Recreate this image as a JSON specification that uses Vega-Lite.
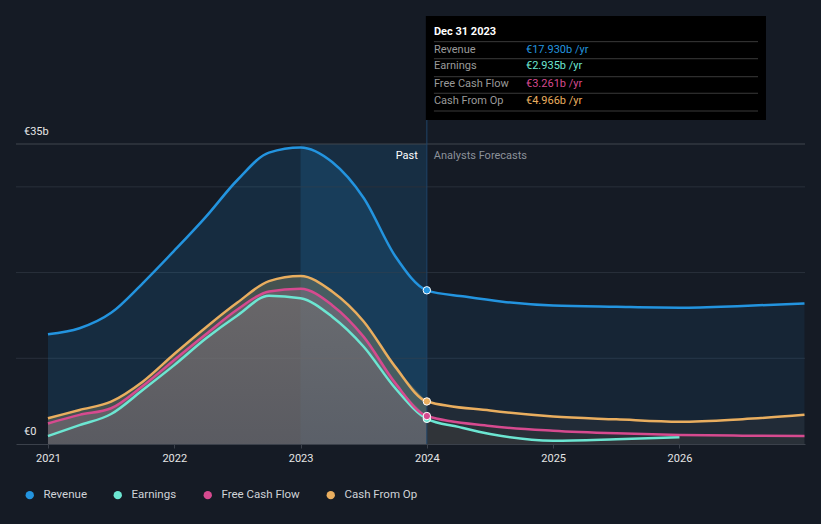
{
  "$schema": "https://vega.github.io/schema/vega-lite/v6.json",
  "width": 789,
  "height": 300,
  "autosize": "none",
  "padding": {"left": 16, "right": 16, "top": 144, "bottom": 80},
  "background": "#151b25",
  "config": {
    "view": {"stroke": null},
    "font": "Roboto",
    "axisX": {
      "labelColor": "#e6e6e6",
      "labelFontSize": 11,
      "labelFont": "Roboto",
      "tickColor": "#3b414b",
      "tickSize": 4,
      "domainColor": "#3b414b",
      "grid": false,
      "labelPadding": 4
    },
    "legend": {
      "labelFont": "Roboto",
      "labelFontSize": 11.5,
      "labelColor": "#d0d3d8",
      "symbolType": "circle",
      "symbolSize": 70,
      "symbolStrokeWidth": 0
    }
  },
  "datasets": {
    "main": [
      {"series": "Revenue", "year": 2021, "value": 12.8},
      {"series": "Revenue", "year": 2021.25, "value": 13.5},
      {"series": "Revenue", "year": 2021.5, "value": 15.3},
      {"series": "Revenue", "year": 2021.75, "value": 18.75},
      {"series": "Revenue", "year": 2022, "value": 22.55},
      {"series": "Revenue", "year": 2022.25, "value": 26.5},
      {"series": "Revenue", "year": 2022.5, "value": 30.8},
      {"series": "Revenue", "year": 2022.75, "value": 34.0},
      {"series": "Revenue", "year": 2023, "value": 34.6},
      {"series": "Revenue", "year": 2023.25, "value": 32.9},
      {"series": "Revenue", "year": 2023.5, "value": 28.7},
      {"series": "Revenue", "year": 2023.75, "value": 21.9},
      {"series": "Revenue", "year": 2024, "value": 17.93},
      {"series": "Revenue", "year": 2024.3, "value": 17.2},
      {"series": "Revenue", "year": 2024.6, "value": 16.6},
      {"series": "Revenue", "year": 2025, "value": 16.15},
      {"series": "Revenue", "year": 2025.5, "value": 16.0},
      {"series": "Revenue", "year": 2026, "value": 15.9},
      {"series": "Revenue", "year": 2026.5, "value": 16.1},
      {"series": "Revenue", "year": 2026.99, "value": 16.4},
      {"series": "Earnings", "year": 2021, "value": 0.93},
      {"series": "Earnings", "year": 2021.25, "value": 2.2},
      {"series": "Earnings", "year": 2021.5, "value": 3.5},
      {"series": "Earnings", "year": 2021.75, "value": 6.3},
      {"series": "Earnings", "year": 2022, "value": 9.2},
      {"series": "Earnings", "year": 2022.25, "value": 12.3},
      {"series": "Earnings", "year": 2022.5, "value": 15.0},
      {"series": "Earnings", "year": 2022.75, "value": 17.3},
      {"series": "Earnings", "year": 2023, "value": 17.0},
      {"series": "Earnings", "year": 2023.25, "value": 14.85},
      {"series": "Earnings", "year": 2023.5, "value": 11.35},
      {"series": "Earnings", "year": 2023.75, "value": 6.5},
      {"series": "Earnings", "year": 2024, "value": 2.935},
      {"series": "Earnings", "year": 2024.25, "value": 2.0},
      {"series": "Earnings", "year": 2024.5, "value": 1.17},
      {"series": "Earnings", "year": 2025, "value": 0.39},
      {"series": "Earnings", "year": 2025.5, "value": 0.55},
      {"series": "Earnings", "year": 2026, "value": 0.78},
      {"series": "Free Cash Flow", "year": 2021, "value": 2.4},
      {"series": "Free Cash Flow", "year": 2021.25, "value": 3.4},
      {"series": "Free Cash Flow", "year": 2021.5, "value": 4.17},
      {"series": "Free Cash Flow", "year": 2021.75, "value": 6.77},
      {"series": "Free Cash Flow", "year": 2022, "value": 9.8},
      {"series": "Free Cash Flow", "year": 2022.25, "value": 12.8},
      {"series": "Free Cash Flow", "year": 2022.5, "value": 15.7},
      {"series": "Free Cash Flow", "year": 2022.75, "value": 17.8},
      {"series": "Free Cash Flow", "year": 2023, "value": 18.1},
      {"series": "Free Cash Flow", "year": 2023.25, "value": 16.2},
      {"series": "Free Cash Flow", "year": 2023.5, "value": 12.5},
      {"series": "Free Cash Flow", "year": 2023.75, "value": 7.1},
      {"series": "Free Cash Flow", "year": 2024, "value": 3.261},
      {"series": "Free Cash Flow", "year": 2024.5, "value": 2.1},
      {"series": "Free Cash Flow", "year": 2025, "value": 1.55},
      {"series": "Free Cash Flow", "year": 2025.5, "value": 1.24},
      {"series": "Free Cash Flow", "year": 2026, "value": 1.05},
      {"series": "Free Cash Flow", "year": 2026.5, "value": 0.97},
      {"series": "Free Cash Flow", "year": 2026.99, "value": 0.93},
      {"series": "Cash From Op", "year": 2021, "value": 3.0},
      {"series": "Cash From Op", "year": 2021.25, "value": 3.97},
      {"series": "Cash From Op", "year": 2021.5, "value": 4.94},
      {"series": "Cash From Op", "year": 2021.75, "value": 7.27},
      {"series": "Cash From Op", "year": 2022, "value": 10.5},
      {"series": "Cash From Op", "year": 2022.25, "value": 13.6},
      {"series": "Cash From Op", "year": 2022.5, "value": 16.5},
      {"series": "Cash From Op", "year": 2022.75, "value": 19.0},
      {"series": "Cash From Op", "year": 2023, "value": 19.6},
      {"series": "Cash From Op", "year": 2023.25, "value": 17.8},
      {"series": "Cash From Op", "year": 2023.5, "value": 14.3},
      {"series": "Cash From Op", "year": 2023.75, "value": 9.0},
      {"series": "Cash From Op", "year": 2024, "value": 4.966},
      {"series": "Cash From Op", "year": 2024.5, "value": 3.9},
      {"series": "Cash From Op", "year": 2025, "value": 3.2},
      {"series": "Cash From Op", "year": 2025.5, "value": 2.88},
      {"series": "Cash From Op", "year": 2026, "value": 2.6},
      {"series": "Cash From Op", "year": 2026.5, "value": 2.9},
      {"series": "Cash From Op", "year": 2026.99, "value": 3.4}
    ],
    "grid": [{"v": 10}, {"v": 20}, {"v": 30}, {"v": 35}],
    "tip": [
      {"series": "Revenue", "label": "Revenue", "text": "€17.930b /yr"},
      {"series": "Earnings", "label": "Earnings", "text": "€2.935b /yr"},
      {"series": "Free Cash Flow", "label": "Free Cash Flow", "text": "€3.261b /yr"},
      {"series": "Cash From Op", "label": "Cash From Op", "text": "€4.966b /yr"}
    ],
    "notes": [
      {"id": "past", "text": "Past"},
      {"id": "fc", "text": "Analysts Forecasts"},
      {"id": "top", "text": "€35b"},
      {"id": "zero", "text": "€0"},
      {"id": "date", "text": "Dec 31 2023"}
    ]
  },
  "layer": [
    {
      "data": {"values": [{"k": "past"}]},
      "mark": {"type": "rect", "color": "#2394df", "opacity": 0.16},
      "encoding": {
        "x": {"datum": 2023, "type": "quantitative", "title": null, "scale": {"domain": [2020.747, 2026.994], "nice": false, "zero": false}, "axis": {"values": [2021, 2022, 2023, 2024, 2025, 2026], "format": "d"}},
        "x2": {"datum": 2024},
        "y": {"datum": 0, "type": "quantitative", "axis": null, "scale": {"domain": [0, 35], "nice": false}},
        "y2": {"datum": 35}
      }
    },
    {
      "data": {"name": "grid"},
      "transform": [{"filter": "datum.v < 35"}],
      "mark": {"type": "rule", "color": "#29303b", "strokeWidth": 1},
      "encoding": {"y": {"field": "v", "type": "quantitative", "axis": null}}
    },
    {
      "data": {"name": "grid"},
      "transform": [{"filter": "datum.v == 35"}],
      "mark": {"type": "rule", "color": "#40464f", "strokeWidth": 1},
      "encoding": {"y": {"field": "v", "type": "quantitative", "axis": null}}
    },
    {
      "data": {"name": "main"},
      "transform": [{"filter": "datum.series == 'Revenue' && datum.year <= 2024"}],
      "mark": {"type": "area", "interpolate": "monotone", "color": "#2394df", "opacity": 0.15},
      "encoding": {
        "x": {"field": "year", "type": "quantitative", "title": null},
        "y": {"field": "value", "type": "quantitative", "axis": null, "stack": null}
      }
    },
    {
      "data": {"name": "main"},
      "transform": [{"filter": "datum.series == 'Revenue' && datum.year >= 2024"}],
      "mark": {"type": "area", "interpolate": "monotone", "color": "#2394df", "opacity": 0.09},
      "encoding": {
        "x": {"field": "year", "type": "quantitative", "title": null},
        "y": {"field": "value", "type": "quantitative", "axis": null, "stack": null}
      }
    },
    {
      "data": {"name": "main"},
      "transform": [{"filter": "datum.series == 'Cash From Op' && datum.year <= 2024"}],
      "mark": {"type": "area", "interpolate": "monotone", "color": "#a6a070", "opacity": 0.33},
      "encoding": {
        "x": {"field": "year", "type": "quantitative", "title": null},
        "y": {"field": "value", "type": "quantitative", "axis": null, "stack": null}
      }
    },
    {
      "data": {"name": "main"},
      "transform": [{"filter": "datum.series == 'Free Cash Flow' && datum.year <= 2024"}],
      "mark": {"type": "area", "interpolate": "monotone", "color": "#b08aa4", "opacity": 0.27},
      "encoding": {
        "x": {"field": "year", "type": "quantitative", "title": null},
        "y": {"field": "value", "type": "quantitative", "axis": null, "stack": null}
      }
    },
    {
      "data": {"name": "main"},
      "transform": [{"filter": "datum.series == 'Earnings' && datum.year <= 2024"}],
      "mark": {
        "type": "area",
        "interpolate": "monotone",
        "opacity": 0.45,
        "color": {"gradient": "linear", "x1": 0, "y1": 0, "x2": 0, "y2": 1, "stops": [{"offset": 0, "color": "#706e6c"}, {"offset": 1, "color": "#50555c"}]}
      },
      "encoding": {
        "x": {"field": "year", "type": "quantitative", "title": null},
        "y": {"field": "value", "type": "quantitative", "axis": null, "stack": null}
      }
    },
    {
      "data": {"name": "main"},
      "transform": [{"filter": "datum.series != 'Revenue' && datum.year >= 2024"}],
      "mark": {"type": "area", "interpolate": "monotone", "color": "#4a4540", "opacity": 0.22},
      "encoding": {
        "x": {"field": "year", "type": "quantitative", "title": null},
        "y": {"field": "value", "type": "quantitative", "axis": null, "stack": null},
        "detail": {"field": "series"}
      }
    },
    {
      "data": {"name": "main"},
      "mark": {"type": "line", "interpolate": "monotone", "strokeWidth": 2.5},
      "encoding": {
        "x": {"field": "year", "type": "quantitative", "title": null, "axis": {"values": [2021, 2022, 2023, 2024, 2025, 2026], "format": "d"}},
        "y": {"field": "value", "type": "quantitative", "axis": null},
        "color": {
          "field": "series",
          "type": "nominal",
          "scale": {"domain": ["Revenue", "Earnings", "Free Cash Flow", "Cash From Op"], "range": ["#2394df", "#6ce6d2", "#d64a8f", "#e9ae5f"]},
          "legend": {
            "title": null,
            "orient": "none",
            "legendX": 8,
            "legendY": 345,
            "direction": "horizontal",
            "columnPadding": 25,
            "labelOffset": 8,
            "symbolType": "circle"
          }
        }
      }
    },
    {
      "data": {"values": [{"k": "now"}]},
      "mark": {"type": "rule", "color": "#1f4468", "strokeWidth": 1},
      "encoding": {
        "x": {"datum": 2024, "type": "quantitative", "title": null},
        "y": {"datum": 0, "type": "quantitative", "axis": null},
        "y2": {"datum": 37.8}
      }
    },
    {
      "data": {"name": "main"},
      "transform": [{"filter": "datum.year == 2024"}],
      "mark": {"type": "point", "filled": true, "size": 55, "stroke": "#ffffff", "strokeWidth": 1, "opacity": 1},
      "encoding": {
        "x": {"field": "year", "type": "quantitative", "title": null},
        "y": {"field": "value", "type": "quantitative", "axis": null},
        "color": {
          "field": "series",
          "type": "nominal",
          "legend": {
            "title": null,
            "orient": "none",
            "legendX": 8,
            "legendY": 345,
            "direction": "horizontal",
            "columnPadding": 25,
            "labelOffset": 8,
            "symbolType": "circle"
          }
        }
      }
    },
    {
      "data": {"name": "notes"},
      "transform": [{"filter": "datum.id == 'past'"}],
      "mark": {"type": "text", "align": "right", "baseline": "middle", "dx": -9, "fontSize": 11, "color": "#ffffff"},
      "encoding": {
        "x": {"datum": 2024, "type": "quantitative", "title": null},
        "y": {"datum": 33.6, "type": "quantitative", "axis": null},
        "text": {"field": "text"}
      }
    },
    {
      "data": {"name": "notes"},
      "transform": [{"filter": "datum.id == 'fc'"}],
      "mark": {"type": "text", "align": "left", "baseline": "middle", "dx": 7, "fontSize": 11, "color": "#8c9199"},
      "encoding": {
        "x": {"datum": 2024, "type": "quantitative", "title": null},
        "y": {"datum": 33.6, "type": "quantitative", "axis": null},
        "text": {"field": "text"}
      }
    },
    {
      "data": {"name": "notes"},
      "transform": [{"filter": "datum.id == 'top'"}],
      "mark": {"type": "text", "align": "left", "baseline": "middle", "dx": 8, "dy": -12, "fontSize": 11, "color": "#e6e6e6"},
      "encoding": {
        "x": {"datum": 2020.747, "type": "quantitative", "title": null},
        "y": {"datum": 35, "type": "quantitative", "axis": null},
        "text": {"field": "text"}
      }
    },
    {
      "data": {"name": "notes"},
      "transform": [{"filter": "datum.id == 'zero'"}],
      "mark": {"type": "text", "align": "left", "baseline": "middle", "dx": 8, "dy": -12, "fontSize": 11, "color": "#e6e6e6"},
      "encoding": {
        "x": {"datum": 2020.747, "type": "quantitative", "title": null},
        "y": {"datum": 0, "type": "quantitative", "axis": null},
        "text": {"field": "text"}
      }
    },
    {
      "data": {"values": [{"k": "tip"}]},
      "mark": {"type": "rect", "color": "#000000", "opacity": 1},
      "encoding": {
        "x": {"datum": 2023.992, "type": "quantitative", "title": null},
        "x2": {"datum": 2026.685},
        "y": {"datum": 37.8, "type": "quantitative", "axis": null},
        "y2": {"datum": 49.93}
      }
    },
    {
      "data": {"name": "notes"},
      "transform": [{"filter": "datum.id == 'date'"}],
      "mark": {"type": "text", "align": "left", "baseline": "middle", "fontSize": 11, "fontWeight": "bold", "color": "#ffffff"},
      "encoding": {
        "x": {"datum": 2024.056, "type": "quantitative", "title": null},
        "y": {"datum": 48.1, "type": "quantitative", "axis": null},
        "text": {"field": "text"}
      }
    },
    {"data": {"values": [{"k": "s1"}]}, "mark": {"type": "rule", "color": "#3a3a3a"}, "encoding": {"x": {"datum": 2024.056, "type": "quantitative", "title": null}, "x2": {"datum": 2026.622}, "y": {"datum": 46.94, "type": "quantitative", "axis": null}}},
    {"data": {"values": [{"k": "s2"}]}, "mark": {"type": "rule", "color": "#3a3a3a"}, "encoding": {"x": {"datum": 2024.056, "type": "quantitative", "title": null}, "x2": {"datum": 2026.622}, "y": {"datum": 44.95, "type": "quantitative", "axis": null}}},
    {"data": {"values": [{"k": "s3"}]}, "mark": {"type": "rule", "color": "#3a3a3a"}, "encoding": {"x": {"datum": 2024.056, "type": "quantitative", "title": null}, "x2": {"datum": 2026.622}, "y": {"datum": 42.85, "type": "quantitative", "axis": null}}},
    {"data": {"values": [{"k": "s4"}]}, "mark": {"type": "rule", "color": "#3a3a3a"}, "encoding": {"x": {"datum": 2024.056, "type": "quantitative", "title": null}, "x2": {"datum": 2026.622}, "y": {"datum": 40.92, "type": "quantitative", "axis": null}}},
    {"data": {"values": [{"k": "s5"}]}, "mark": {"type": "rule", "color": "#3a3a3a"}, "encoding": {"x": {"datum": 2024.056, "type": "quantitative", "title": null}, "x2": {"datum": 2026.622}, "y": {"datum": 38.85, "type": "quantitative", "axis": null}}},
    {"data": {"name": "tip"}, "transform": [{"filter": "datum.series == 'Revenue'"}], "mark": {"type": "text", "align": "left", "baseline": "middle", "fontSize": 11, "color": "#9a9a9a"}, "encoding": {"x": {"datum": 2024.056, "type": "quantitative", "title": null}, "y": {"datum": 46.0, "type": "quantitative", "axis": null}, "text": {"field": "label"}}},
    {"data": {"name": "tip"}, "transform": [{"filter": "datum.series == 'Earnings'"}], "mark": {"type": "text", "align": "left", "baseline": "middle", "fontSize": 11, "color": "#9a9a9a"}, "encoding": {"x": {"datum": 2024.056, "type": "quantitative", "title": null}, "y": {"datum": 44.05, "type": "quantitative", "axis": null}, "text": {"field": "label"}}},
    {"data": {"name": "tip"}, "transform": [{"filter": "datum.series == 'Free Cash Flow'"}], "mark": {"type": "text", "align": "left", "baseline": "middle", "fontSize": 11, "color": "#9a9a9a"}, "encoding": {"x": {"datum": 2024.056, "type": "quantitative", "title": null}, "y": {"datum": 41.95, "type": "quantitative", "axis": null}, "text": {"field": "label"}}},
    {"data": {"name": "tip"}, "transform": [{"filter": "datum.series == 'Cash From Op'"}], "mark": {"type": "text", "align": "left", "baseline": "middle", "fontSize": 11, "color": "#9a9a9a"}, "encoding": {"x": {"datum": 2024.056, "type": "quantitative", "title": null}, "y": {"datum": 40.0, "type": "quantitative", "axis": null}, "text": {"field": "label"}}},
    {"data": {"name": "tip"}, "transform": [{"filter": "datum.series == 'Revenue'"}], "mark": {"type": "text", "align": "left", "baseline": "middle", "fontSize": 11, "color": "#2394df"}, "encoding": {"x": {"datum": 2024.785, "type": "quantitative", "title": null}, "y": {"datum": 46.0, "type": "quantitative", "axis": null}, "text": {"field": "text"}}},
    {"data": {"name": "tip"}, "transform": [{"filter": "datum.series == 'Earnings'"}], "mark": {"type": "text", "align": "left", "baseline": "middle", "fontSize": 11, "color": "#6ce6d2"}, "encoding": {"x": {"datum": 2024.785, "type": "quantitative", "title": null}, "y": {"datum": 44.05, "type": "quantitative", "axis": null}, "text": {"field": "text"}}},
    {"data": {"name": "tip"}, "transform": [{"filter": "datum.series == 'Free Cash Flow'"}], "mark": {"type": "text", "align": "left", "baseline": "middle", "fontSize": 11, "color": "#d64a8f"}, "encoding": {"x": {"datum": 2024.785, "type": "quantitative", "title": null}, "y": {"datum": 41.95, "type": "quantitative", "axis": null}, "text": {"field": "text"}}},
    {"data": {"name": "tip"}, "transform": [{"filter": "datum.series == 'Cash From Op'"}], "mark": {"type": "text", "align": "left", "baseline": "middle", "fontSize": 11, "color": "#e9ae5f"}, "encoding": {"x": {"datum": 2024.785, "type": "quantitative", "title": null}, "y": {"datum": 40.0, "type": "quantitative", "axis": null}, "text": {"field": "text"}}}
  ]
}
